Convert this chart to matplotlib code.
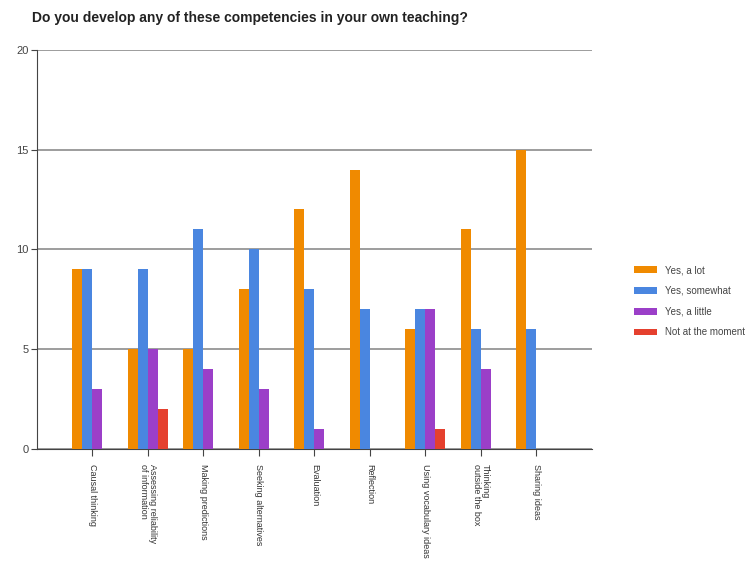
import matplotlib.pyplot as plt
import numpy as np

# Survey data: number of responses per competency
categories = ['Causal thinking', 'Assessing reliability\nof information', 'Making predictions',
              'Seeking alternatives', 'Evaluation', 'Reflection', 'Using vocabulary ideas',
              'Thinking\noutside the box', 'Sharing ideas']
series_names = ['Yes, a lot', 'Yes, somewhat', 'Yes, a little', 'Not at the moment']
yes_a_lot = [9, 5, 5, 8, 12, 14, 6, 11, 15]
yes_somewhat = [9, 9, 11, 10, 8, 7, 7, 6, 6]
yes_a_little = [3, 5, 4, 3, 1, 0, 7, 4, 0]
not_at_moment = [0, 2, 0, 0, 0, 0, 1, 0, 0]
colours = ['#f08a00', '#4a86e0', '#9b3fc8', '#e5402e']

plt.rcParams['font.family'] = ['Liberation Sans', 'DejaVu Sans']

fig = plt.figure(figsize=(7.52, 5.72), dpi=100)
ax = fig.add_axes([0.049, 0.215, 0.738, 0.698])

x = np.arange(len(categories))
width = 0.18
all_series = [yes_a_lot, yes_somewhat, yes_a_little, not_at_moment]
for i, (vals, name, col) in enumerate(zip(all_series, series_names, colours)):
    ax.bar(x + (i - 1.5) * width, vals, width, color=col, label=name, zorder=3)

ax.set_xlim(-1, len(categories))
ax.set_ylim(0, 20)
ax.set_yticks([0, 5, 10, 15, 20])
ax.yaxis.grid(True, color='#8c8c8c', linewidth=1.2, zorder=0)
ax.set_axisbelow(True)

for s in ['top', 'right']:
    ax.spines[s].set_visible(False)
ax.spines['left'].set_color('#444444')
ax.spines['bottom'].set_color('#444444')

ax.set_xticks(x)
ax.set_xticklabels(categories, rotation=270, fontsize=6.5, color='#333333',
                   ha='center', va='top', linespacing=1.0, multialignment='left')
ax.tick_params(axis='x', length=5, color='#444444', pad=6)
ax.tick_params(axis='y', length=4, color='#444444', labelsize=8, labelcolor='#444444', pad=2)

fig.text(0.043, 0.968, 'Do you develop any of these competencies in your own teaching?',
         fontsize=10, fontweight='bold', color='#222222', ha='left', va='center')

ax.legend(loc='center left', bbox_to_anchor=(1.06, 0.37), frameon=False,
          fontsize=7, handlelength=2.4, handleheight=0.7, labelspacing=1.1,
          labelcolor='#444444')

fig.savefig('out.png', dpi=100)
